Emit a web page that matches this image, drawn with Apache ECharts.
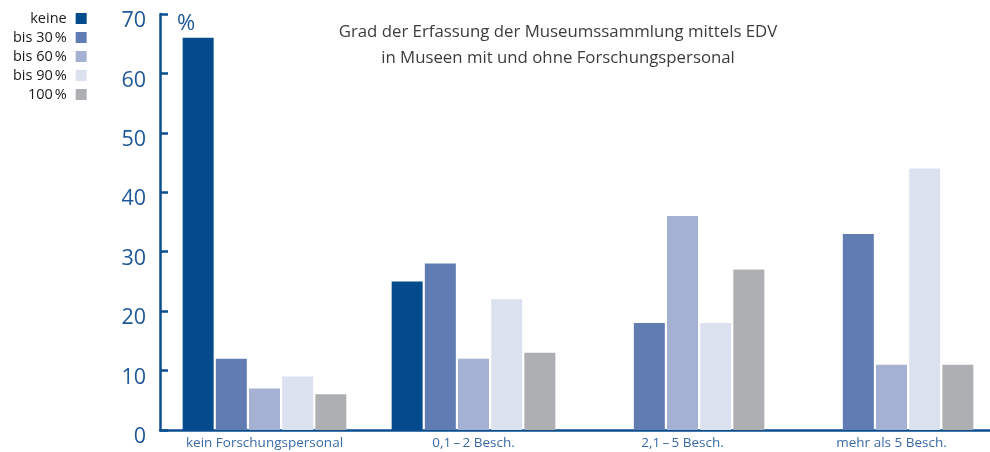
<!DOCTYPE html>
<html>
<head>
<meta charset="utf-8">
<script src="https://cdn.jsdelivr.net/npm/echarts@6/dist/echarts.min.js"></script>
<style>
  html, body { margin: 0; padding: 0; background: #fff; overflow: hidden; }
  #chart { width: 1000px; height: 452px; }
</style>
</head>
<body>
<div id="chart"></div>
<script>
// ── Daten ────────────────────────────────────────────────
const CATEGORIES = ['kein Forschungspersonal', '0,1\u2009\u2013\u20092 Besch.', '2,1\u2009\u2013\u20095 Besch.', 'mehr als 5 Besch.']
const SERIES_NAMES = ['keine', 'bis 30\u202f%', 'bis 60\u202f%', 'bis 90\u202f%', '100\u202f%']
const KEINE  = [66, 25, 0, 0]
const BIS30  = [12, 28, 18, 33]
const BIS60  = [7, 12, 36, 11]
const BIS90  = [9, 22, 18, 44]
const VOLL   = [6, 13, 27, 11]
const Y_TICKS = [0, 10, 20, 30, 40, 50, 60, 70]

const COLORS = ['#034b8d', '#617cb2', '#a5b1d2', '#dbe1ee', '#aeafb2']
const AXIS_BLUE = '#0b4f90'
const FONT = '"Open Sans", "Noto Sans", sans-serif'

const chart = echarts.init(document.getElementById('chart'), null, { renderer: 'canvas' })

const seriesData = [KEINE, BIS30, BIS60, BIS90, VOLL]

chart.setOption({
  backgroundColor: '#fff',
  animation: false,
  title: {
    text: 'Grad der Erfassung der Museumssammlung mittels EDV\nin Museen mit und ohne Forschungspersonal',
    left: 553,
    textAlign: 'center',
    top: 14,
    textStyle: { color: '#3c3c3c', fontSize: 16.8, fontWeight: 'normal', fontFamily: FONT, lineHeight: 26 },
  },
  legend: {
    orient: 'vertical',
    align: 'right',
    left: 8,
    top: 6,
    itemWidth: 11,
    itemHeight: 11,
    itemGap: 4,
    icon: 'rect',
    textStyle: { color: '#1a1a1a', fontSize: 14.5, fontFamily: FONT, padding: [0, 4, 0, 0] },
    data: SERIES_NAMES,
  },
  graphic: [{
    type: 'text',
    left: 177,
    top: 13,
    style: { text: '%', fill: '#1f5797', fontSize: 22, fontFamily: FONT },
  }],
  grid: { left: 160, top: 14, bottom: 22, width: 836, containLabel: false },
  xAxis: {
    type: 'category',
    data: CATEGORIES,
    axisLine: { lineStyle: { color: AXIS_BLUE, width: 2.5 } },
    axisTick: { show: false },
    axisLabel: { color: '#3a6aa6', fontSize: 13.5, fontFamily: FONT, margin: 6 },
  },
  yAxis: {
    type: 'value',
    min: Y_TICKS[0],
    max: Y_TICKS[Y_TICKS.length - 1],
    interval: 10,
    axisLine: { show: true, lineStyle: { color: AXIS_BLUE, width: 2.5 } },
    axisTick: { show: true, inside: true, length: 8, lineStyle: { color: AXIS_BLUE, width: 2.5 } },
    splitLine: { show: false },
    axisLabel: {
      color: '#1f5797', fontSize: 21.5, fontFamily: FONT, margin: 14,
      verticalAlign: 'top', lineHeight: 14,
    },
  },
  series: SERIES_NAMES.map((name, i) => ({
    name,
    type: 'bar',
    data: seriesData[i],
    barWidth: 31,
    barGap: '7%',
    itemStyle: { color: COLORS[i] },
  })),
})
</script>
</body>
</html>
